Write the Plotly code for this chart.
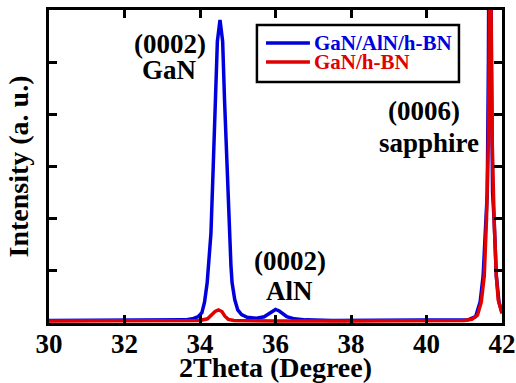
import plotly.graph_objects as go

# 2Theta (degree) and intensity (a.u.)
blue_x = [30.0, 31.0, 32.0, 33.0, 33.6, 33.8, 33.95, 34.05, 34.12, 34.19, 34.24, 34.29, 34.35,
          34.41, 34.46, 34.53, 34.60, 34.65, 34.71, 34.77, 34.82, 34.85, 34.92, 35.0, 35.1,
          35.25, 35.5, 35.7, 35.8, 35.9, 36.0, 36.1, 36.2, 36.3, 36.5, 36.8, 37.5, 38.0, 39.0,
          40.0, 40.8, 41.1, 41.3, 41.42, 41.5, 41.57, 41.61, 41.64, 41.68, 41.72, 41.75,
          41.79, 41.85, 41.92, 42.0]
blue_y = [0.05, 0.05, 0.05, 0.05, 0.06, 0.08, 0.12, 0.2, 0.4, 0.77, 1.2, 1.72, 2.99,
          4.27, 5.4, 5.81, 5.4, 4.27, 2.99, 1.72, 1.1, 0.77, 0.45, 0.25, 0.16,
          0.11, 0.09, 0.12, 0.17, 0.23, 0.26, 0.23, 0.17, 0.12, 0.08, 0.06, 0.05, 0.05, 0.05,
          0.05, 0.05, 0.06, 0.12, 0.4, 0.9, 2.0, 2.5, 5.0, 12.0, 5.0, 2.5,
          2.0, 0.9, 0.4, 0.2]

red_x = [30.0, 32.0, 33.5, 34.0, 34.2, 34.3, 34.4, 34.49, 34.58, 34.66, 34.75, 34.9, 35.5,
         36.0, 38.0, 40.0, 41.0, 41.2, 41.35, 41.45, 41.53, 41.59, 41.64, 41.67, 41.69,
         41.71, 41.74, 41.79, 41.85, 41.9, 41.96, 42.0]
red_y = [0.04, 0.04, 0.04, 0.05, 0.08, 0.14, 0.22, 0.25, 0.22, 0.13, 0.07, 0.05, 0.04,
         0.04, 0.04, 0.04, 0.05, 0.07, 0.15, 0.4, 0.9, 2.0, 3.5, 6.0, 14.0,
         6.0, 3.5, 2.0, 0.9, 0.44, 0.25, 0.18]

series_names = ["GaN/AlN/h-BN", "GaN/h-BN"]
series_colors = ["#0000dd", "#e00000"]

x_ticks = [30, 32, 34, 36, 38, 40, 42]

labels_text = ["(0002)", "GaN", "(0002)", "AlN", "(0006)", "sapphire"]
labels_x = [33.2, 33.2, 36.38, 36.38, 39.93, 40.07]
labels_y = [5.34, 4.85, 1.19, 0.61, 4.06, 3.45]

FONT = "Liberation Serif"

fig = go.Figure()
for xs, ys, name, col in [(blue_x, blue_y, series_names[0], series_colors[0]),
                          (red_x, red_y, series_names[1], series_colors[1])]:
    fig.add_trace(go.Scatter(
        x=xs, y=ys, mode="lines", name=name, showlegend=False,
        line=dict(color=col, width=3.5),
    ))

for t, xx, yy in zip(labels_text, labels_x, labels_y):
    fig.add_annotation(x=xx, y=yy, xref="x", yref="y", text=t,
                       showarrow=False, xanchor="center", yanchor="middle",
                       font=dict(family=FONT, size=27, color="black", weight="bold"))

# legend box drawn in paper coordinates
fig.add_shape(type="rect", xref="paper", yref="paper", x0=0.459, x1=0.905, y0=0.770, y1=0.952,
              line=dict(color="black", width=2.5), fillcolor="white", layer="above")
leg_y = [0.8946, 0.834]
for name, col, ly in zip(series_names, series_colors, leg_y):
    fig.add_shape(type="line", xref="paper", yref="paper", x0=0.479, x1=0.576, y0=ly, y1=ly,
                  line=dict(color=col, width=3.5), layer="above")
    fig.add_annotation(x=0.580, y=ly, xref="paper", yref="paper", text=name,
                       showarrow=False, xanchor="left", yanchor="middle",
                       font=dict(family=FONT, size=21, color=col, weight="bold"))

fig.update_layout(
    width=516, height=383,
    margin=dict(l=49, r=14, t=10, b=60, autoexpand=False),
    paper_bgcolor="white", plot_bgcolor="white",
    font=dict(family=FONT, color="black", weight="bold"),
    showlegend=False,
)
fig.update_xaxes(
    range=[30, 42], tickvals=x_ticks, ticktext=[str(v) for v in x_ticks],
    ticks="inside", ticklen=8, tickwidth=2.5, tickcolor="black",
    showline=True, linewidth=3, linecolor="black", mirror="allticks",
    showgrid=False, zeroline=False, automargin=False, ticklabelstandoff=-5,
    tickfont=dict(family=FONT, size=27, color="black", weight="bold"),
    title=dict(text="2Theta (Degree)",
               font=dict(family=FONT, size=28, color="black", weight="bold"),
               standoff=0),
)
fig.update_yaxes(
    range=[0, 6], dtick=1, tick0=0,
    ticks="inside", ticklen=8, tickwidth=2.5, tickcolor="black",
    showline=True, linewidth=3, linecolor="black", mirror="allticks",
    showgrid=False, zeroline=False, showticklabels=False, automargin=False,
    title=dict(text="Intensity (a. u.)",
               font=dict(family=FONT, size=28, color="black", weight="bold"),
               standoff=10),
)
fig.write_html("out.html")
